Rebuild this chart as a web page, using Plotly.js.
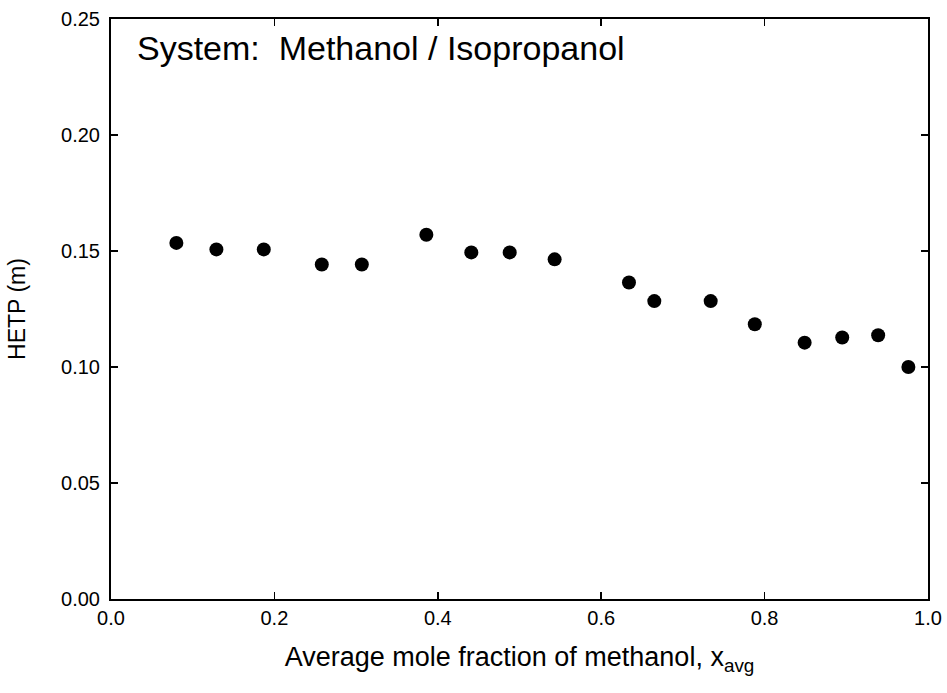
<!DOCTYPE html>
<html>
<head>
<meta charset="utf-8">
<script src="https://cdn.plot.ly/plotly-3.0.1.min.js"></script>
<style>html,body{margin:0;padding:0;background:#fff;}#chart{width:947px;height:693px;}</style>
</head>
<body>
<div id="chart"></div>
<script>
// Average mole fraction of methanol
var xAvg = [0.080, 0.129, 0.187, 0.258, 0.307, 0.386, 0.441, 0.488, 0.543, 0.634, 0.665, 0.734, 0.788, 0.849, 0.895, 0.939, 0.976];
// HETP (m)
var hetp = [0.1535, 0.1507, 0.1507, 0.1442, 0.1442, 0.1570, 0.1494, 0.1494, 0.1464, 0.1364, 0.1284, 0.1284, 0.1184, 0.1105, 0.1127, 0.1137, 0.1000];
var xTicks = [0.0, 0.2, 0.4, 0.6, 0.8, 1.0];
var xTickText = ["0.0", "0.2", "0.4", "0.6", "0.8", "1.0"];
var yTicks = [0.00, 0.05, 0.10, 0.15, 0.20, 0.25];
var yTickText = ["0.00", "0.05", "0.10", "0.15", "0.20", "0.25"];

var FONT = "Liberation Sans, Arial, Helvetica, sans-serif";

var trace = {
  x: xAvg, y: hetp, type: "scatter", mode: "markers",
  marker: {color: "#000", size: 14, line: {width: 0}},
  hoverinfo: "x+y"
};

var axisCommon = {
  showgrid: false, zeroline: false, showline: true, linecolor: "#000", linewidth: 2,
  mirror: "allticks", ticks: "inside", ticklen: 7, tickwidth: 1.5, tickcolor: "#000",
  tickfont: {family: FONT, size: 20, color: "#000"}
};

var layout = {
  width: 947, height: 693,
  margin: {l: 111, r: 19, t: 19, b: 94},
  paper_bgcolor: "#fff", plot_bgcolor: "#fff",
  showlegend: false,
  xaxis: Object.assign({}, axisCommon, {
    range: [0, 1], tickvals: xTicks, ticktext: xTickText,
    title: {text: "Average mole fraction of methanol, x<sub>avg</sub>", font: {family: FONT, size: 27, color: "#000"}, standoff: 19}
  }),
  yaxis: Object.assign({}, axisCommon, {
    range: [0, 0.25], tickvals: yTicks, ticktext: yTickText, ticklabelstandoff: 5,
    title: {text: "HETP (m)", font: {family: FONT, size: 23, color: "#000"}, standoff: 29}
  }),
  annotations: [{
    xref: "paper", yref: "paper", x: 0.029, y: 0.95, xanchor: "left", yanchor: "middle",
    text: "System:  Methanol / Isopropanol", showarrow: false,
    font: {family: FONT, size: 34, color: "#000"}
  }]
};

Plotly.newPlot("chart", [trace], layout, {displayModeBar: false, staticPlot: true});
</script>
</body>
</html>
